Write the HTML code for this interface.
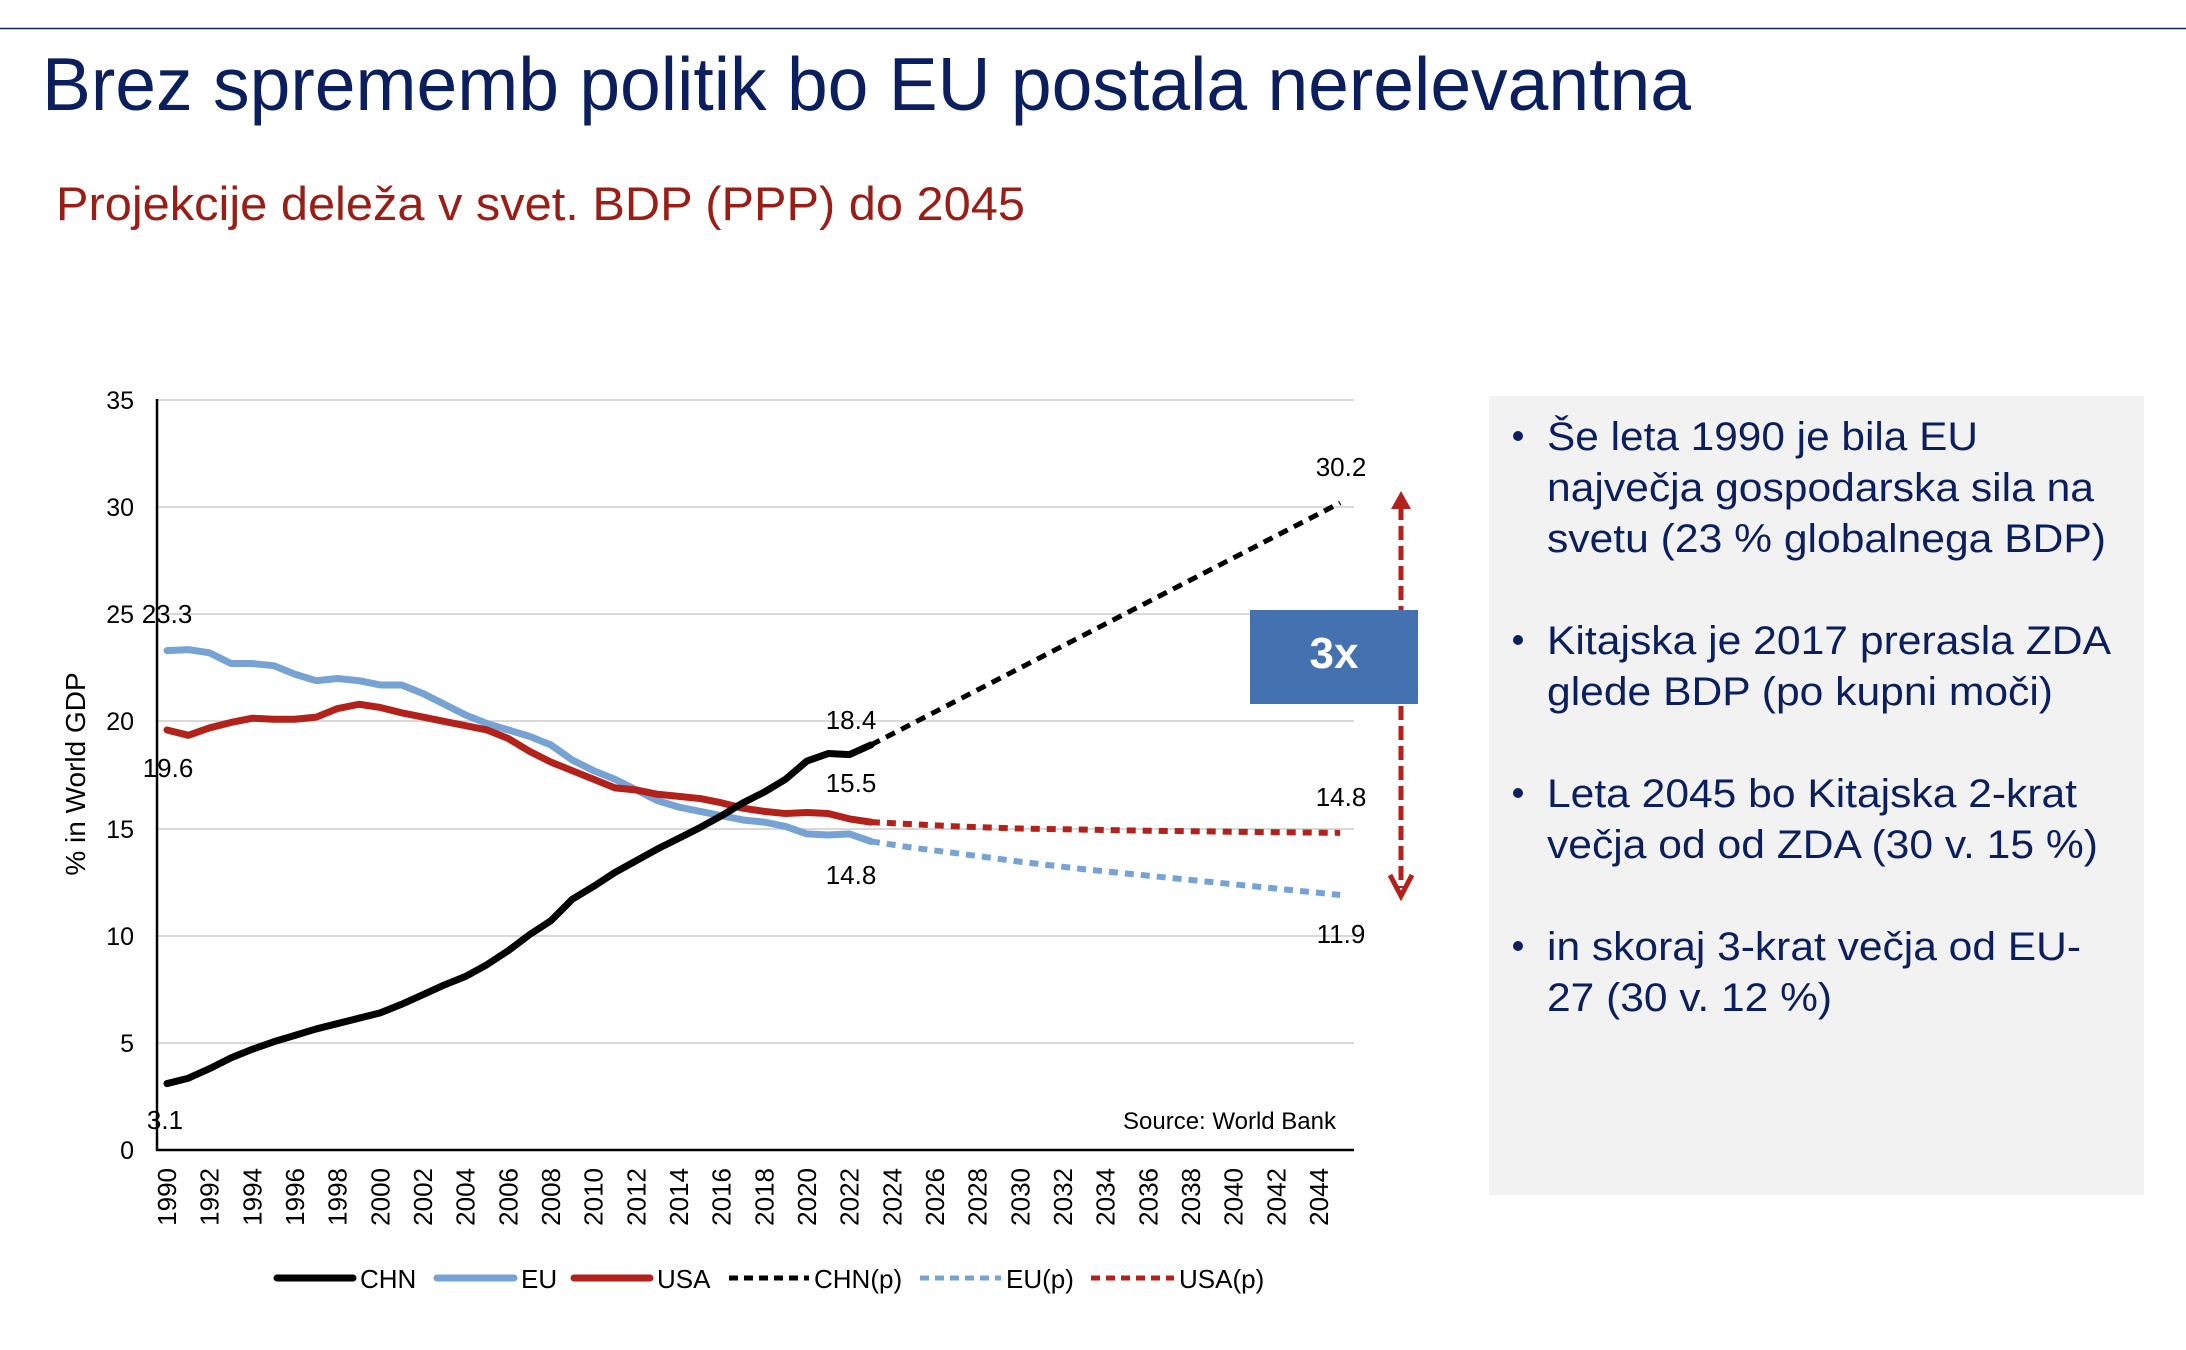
<!DOCTYPE html>
<html><head><meta charset="utf-8"><style>
html,body{margin:0;padding:0;background:#fff;}
svg{display:block;font-family:"Liberation Sans",Arial,sans-serif;}
</style></head><body>
<svg width="2186" height="1350" viewBox="0 0 2186 1350" xmlns="http://www.w3.org/2000/svg">
<rect width="2186" height="1350" fill="#fff"/>
<line x1="0" y1="28.5" x2="2186" y2="28.5" stroke="#0d2260" stroke-width="1.5"/>
<text x="42" y="110" font-size="75" fill="#0b1f5e" textLength="1649" lengthAdjust="spacingAndGlyphs">Brez sprememb politik bo EU postala nerelevantna</text>
<text x="56" y="220" font-size="47" fill="#9a1d16" textLength="969" lengthAdjust="spacingAndGlyphs">Projekcije deleža v svet. BDP (PPP) do 2045</text>

<!-- right panel -->
<rect x="1489" y="396" width="655" height="799" fill="#f2f2f2"/>
<g fill="#0b1f5e" font-size="40">
<circle cx="1518" cy="436" r="5"/>
<circle cx="1518" cy="640" r="5"/>
<circle cx="1518" cy="793" r="5"/>
<circle cx="1518" cy="946" r="5"/>
<text x="1547" y="450" textLength="431" lengthAdjust="spacingAndGlyphs">Še leta 1990 je bila EU</text>
<text x="1547" y="501" textLength="547" lengthAdjust="spacingAndGlyphs">največja gospodarska sila na</text>
<text x="1547" y="552" textLength="559" lengthAdjust="spacingAndGlyphs">svetu (23 % globalnega BDP)</text>
<text x="1547" y="654" textLength="564" lengthAdjust="spacingAndGlyphs">Kitajska je 2017 prerasla ZDA</text>
<text x="1547" y="705" textLength="506" lengthAdjust="spacingAndGlyphs">glede BDP (po kupni moči)</text>
<text x="1547" y="807" textLength="530" lengthAdjust="spacingAndGlyphs">Leta 2045 bo Kitajska 2-krat</text>
<text x="1547" y="858" textLength="551" lengthAdjust="spacingAndGlyphs">večja od od ZDA (30 v. 15 %)</text>
<text x="1547" y="960" textLength="534" lengthAdjust="spacingAndGlyphs">in skoraj 3-krat večja od EU-</text>
<text x="1547" y="1011" textLength="285" lengthAdjust="spacingAndGlyphs">27 (30 v. 12 %)</text>
</g>

<!-- gridlines -->
<g stroke="#d9d9d9" stroke-width="2">
<line x1="157" y1="400" x2="1354" y2="400"/>
<line x1="157" y1="507" x2="1354" y2="507"/>
<line x1="157" y1="614" x2="1354" y2="614"/>
<line x1="157" y1="721" x2="1354" y2="721"/>
<line x1="157" y1="829" x2="1354" y2="829"/>
<line x1="157" y1="936" x2="1354" y2="936"/>
<line x1="157" y1="1043" x2="1354" y2="1043"/>
</g>
<line x1="157" y1="399" x2="157" y2="1151" stroke="#000" stroke-width="2.5"/>
<line x1="156" y1="1150" x2="1354" y2="1150" stroke="#000" stroke-width="2.5"/>

<g font-size="25" text-anchor="end" fill="#000">
<text x="134" y="409">35</text>
<text x="134" y="516">30</text>
<text x="134" y="623">25</text>
<text x="134" y="730">20</text>
<text x="134" y="838">15</text>
<text x="134" y="945">10</text>
<text x="134" y="1052">5</text>
<text x="134" y="1159">0</text>
</g>
<text transform="translate(85,774) rotate(-90)" font-size="28" text-anchor="middle">% in World GDP</text>

<!-- x labels -->
<g font-size="26" text-anchor="end">
<text transform="translate(176,1168) rotate(-90)">1990</text>
<text transform="translate(218.7,1168) rotate(-90)">1992</text>
<text transform="translate(261.3,1168) rotate(-90)">1994</text>
<text transform="translate(304,1168) rotate(-90)">1996</text>
<text transform="translate(346.6,1168) rotate(-90)">1998</text>
<text transform="translate(389.3,1168) rotate(-90)">2000</text>
<text transform="translate(432,1168) rotate(-90)">2002</text>
<text transform="translate(474.6,1168) rotate(-90)">2004</text>
<text transform="translate(517.3,1168) rotate(-90)">2006</text>
<text transform="translate(560,1168) rotate(-90)">2008</text>
<text transform="translate(602.6,1168) rotate(-90)">2010</text>
<text transform="translate(645.3,1168) rotate(-90)">2012</text>
<text transform="translate(688,1168) rotate(-90)">2014</text>
<text transform="translate(730.6,1168) rotate(-90)">2016</text>
<text transform="translate(773.3,1168) rotate(-90)">2018</text>
<text transform="translate(816,1168) rotate(-90)">2020</text>
<text transform="translate(858.6,1168) rotate(-90)">2022</text>
<text transform="translate(901.3,1168) rotate(-90)">2024</text>
<text transform="translate(944,1168) rotate(-90)">2026</text>
<text transform="translate(986.6,1168) rotate(-90)">2028</text>
<text transform="translate(1029.3,1168) rotate(-90)">2030</text>
<text transform="translate(1072,1168) rotate(-90)">2032</text>
<text transform="translate(1114.6,1168) rotate(-90)">2034</text>
<text transform="translate(1157.3,1168) rotate(-90)">2036</text>
<text transform="translate(1200,1168) rotate(-90)">2038</text>
<text transform="translate(1242.6,1168) rotate(-90)">2040</text>
<text transform="translate(1285.3,1168) rotate(-90)">2042</text>
<text transform="translate(1328,1168) rotate(-90)">2044</text>
</g>

<!-- series -->
<g transform="translate(167,1150) scale(21.33,-21.43)" fill="none" stroke-linejoin="round" stroke-linecap="round">
<polyline vector-effect="non-scaling-stroke" stroke="#b3211b" stroke-width="6" stroke-dasharray="9,7" stroke-linecap="butt"
 points="33,15.3 35,15.2 37,15.1 40,15.0 43,14.95 46,14.9 50,14.85 55,14.8"/>
<polyline vector-effect="non-scaling-stroke" stroke="#77a2d4" stroke-width="6" stroke-dasharray="9,7" stroke-linecap="butt"
 points="33,14.4 35,14.1 37,13.85 40,13.45 43,13.1 46,12.8 50,12.4 55,11.9"/>
<polyline vector-effect="non-scaling-stroke" stroke="#000" stroke-width="5" stroke-dasharray="10,7" stroke-linecap="butt"
 points="33,18.9 55,30.2"/>
<polyline vector-effect="non-scaling-stroke" stroke="#77a2d4" stroke-width="7"
 points="0,23.3 1,23.35 2,23.2 3,22.7 4,22.7 5,22.6 6,22.2 7,21.9 8,22.0 9,21.9 10,21.7 11,21.7 12,21.3 13,20.8 14,20.3 15,19.9 16,19.6 17,19.3 18,18.9 19,18.2 20,17.7 21,17.3 22,16.8 23,16.3 24,16.0 25,15.8 26,15.6 27,15.4 28,15.3 29,15.1 30,14.75 31,14.7 32,14.75 33,14.4"/>
<polyline vector-effect="non-scaling-stroke" stroke="#b3211b" stroke-width="7"
 points="0,19.6 1,19.35 2,19.7 3,19.95 4,20.15 5,20.1 6,20.1 7,20.2 8,20.6 9,20.8 10,20.65 11,20.4 12,20.2 13,20.0 14,19.8 15,19.6 16,19.2 17,18.6 18,18.1 19,17.7 20,17.3 21,16.9 22,16.8 23,16.6 24,16.5 25,16.4 26,16.2 27,15.95 28,15.8 29,15.7 30,15.75 31,15.7 32,15.45 33,15.3"/>
<polyline vector-effect="non-scaling-stroke" stroke="#000" stroke-width="7"
 points="0,3.1 1,3.35 2,3.8 3,4.3 4,4.7 5,5.05 6,5.35 7,5.65 8,5.9 9,6.15 10,6.4 11,6.8 12,7.25 13,7.7 14,8.1 15,8.65 16,9.3 17,10.05 18,10.7 19,11.7 20,12.3 21,12.95 22,13.5 23,14.05 24,14.55 25,15.05 26,15.6 27,16.2 28,16.7 29,17.3 30,18.15 31,18.5 32,18.45 33,18.9"/>
</g>

<!-- data labels -->
<g font-size="26" text-anchor="middle" fill="#000">
<text x="167" y="623">23.3</text>
<text x="168" y="777">19.6</text>
<text x="165" y="1129">3.1</text>
<text x="851" y="729">18.4</text>
<text x="851" y="792">15.5</text>
<text x="851" y="884">14.8</text>
<text x="1341" y="476">30.2</text>
<text x="1341" y="806">14.8</text>
<text x="1341" y="943">11.9</text>
</g>
<text x="1336" y="1129" font-size="24" text-anchor="end">Source: World Bank</text>

<!-- arrow -->
<line x1="1401" y1="506" x2="1401" y2="888" stroke="#b3211b" stroke-width="5" stroke-dasharray="14,6"/>
<polygon points="1401,491 1391,509 1411,509" fill="#b3211b"/>
<polyline points="1390,875 1401,896 1412,875" fill="none" stroke="#b3211b" stroke-width="5"/>
<rect x="1250" y="610" width="168" height="94" fill="#4472b0"/>
<text x="1334" y="668" font-size="44" font-weight="bold" fill="#fff" text-anchor="middle">3x</text>

<!-- legend -->
<g stroke-width="7" stroke-linecap="round" fill="none">
<line x1="277" y1="1278" x2="353" y2="1278" stroke="#000"/>
<line x1="437" y1="1278" x2="514" y2="1278" stroke="#77a2d4"/>
<line x1="574" y1="1278" x2="650" y2="1278" stroke="#b3211b"/>
</g>
<g stroke-width="5" fill="none" stroke-dasharray="9,6">
<line x1="729" y1="1278" x2="809" y2="1278" stroke="#000"/>
<line x1="920" y1="1278" x2="1001" y2="1278" stroke="#77a2d4"/>
<line x1="1091" y1="1278" x2="1174" y2="1278" stroke="#b3211b"/>
</g>
<g font-size="26" fill="#000">
<text x="360" y="1288">CHN</text>
<text x="521" y="1288">EU</text>
<text x="657" y="1288">USA</text>
<text x="814" y="1288">CHN(p)</text>
<text x="1006" y="1288">EU(p)</text>
<text x="1179" y="1288">USA(p)</text>
</g>
</svg>
</body></html>
